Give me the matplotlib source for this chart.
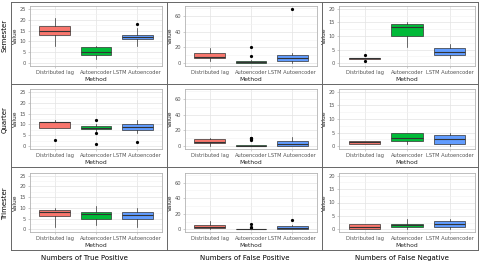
import matplotlib
matplotlib.use("Agg")
import matplotlib.pyplot as plt
from matplotlib.lines import Line2D

methods = ["Distributed lag", "Autoencoder", "LSTM Autoencoder"]
colors = ["#F8766D", "#00BA38", "#619CFF"]
rows = ["Semester", "Quarter", "Trimester"]
cols = ["Numbers of True Positive", "Numbers of False Positive", "Numbers of False Negative"]

# box stats per method: (whislo, q1, med, q3, whishi, fliers)
semester_tp = [(8, 12.8, 15, 17, 21, []), (2, 3.7, 5, 7.3, 8, []), (8, 11, 12, 13, 16, [18])]
semester_fp = [(3, 6, 8.5, 13, 19, []), (0, 0.5, 1.5, 2.5, 3.5, [9, 21]), (0, 3, 6, 10, 13, [69])]
semester_fn = [(1.5, 1.5, 2, 2, 2, [1, 3]), (6, 10, 13.3, 14.3, 15, []), (2, 3.2, 4, 5.5, 7, [])]
quarter_tp = [(8.5, 8.5, 11, 11.2, 12, [3]), (7, 8, 8.5, 9.3, 10, [12, 6, 1]), (6, 7.5, 9, 10, 12, [2])]
quarter_fp = [(0, 4, 6, 9, 11, []), (0, 0, 0.5, 1, 2, [8, 9, 10, 11]), (0, 0, 3, 7, 12, [])]
quarter_fn = [(1, 1, 1.5, 2, 2, []), (1, 1.8, 3, 5, 5, []), (0, 1, 2.7, 4, 5, [])]
trimester_tp = [(1, 6, 8, 9, 10, []), (2, 5, 7, 8, 11, []), (1, 5, 6.5, 8, 10, [])]
trimester_fp = [(0, 2, 3.5, 6, 11, []), (0, 0, 0, 1, 1.5, [2, 3, 7]), (0, 1, 2, 4, 6, [12])]
trimester_fn = [(0, 0, 1, 2, 2, []), (0, 1, 1.5, 2, 4, []), (0, 1, 2, 3, 4, [])]

panels = [[semester_tp, semester_fp, semester_fn],
          [quarter_tp, quarter_fp, quarter_fn],
          [trimester_tp, trimester_fp, trimester_fn]]

col_ylims = [(-1.3, 26.3), (-3.5, 72.5), (-1.0, 21.0)]
col_ticks = [[0, 5, 10, 15, 20, 25], [0, 20, 40, 60], [0, 5, 10, 15, 20]]
col_minor = [[2.5, 7.5, 12.5, 17.5, 22.5], [10, 30, 50, 70], [2.5, 7.5, 12.5, 17.5]]

W, H = 480, 266
fig = plt.figure(figsize=(4.8, 2.66), dpi=100)

# plot areas in pixels (left, right) and (top, bottom)
col_x = [(30, 162), (185, 317), (339, 475)]
row_y = [(6, 66), (89, 149), (173, 232)]

for r in range(3):
    for c in range(3):
        x0, x1 = col_x[c]
        y0, y1 = row_y[r]
        ax = fig.add_axes([x0 / W, 1 - y1 / H, (x1 - x0) / W, (y1 - y0) / H])
        stats = []
        for m, s in zip(methods, panels[r][c]):
            stats.append(dict(label=m, whislo=s[0], q1=s[1], med=s[2], q3=s[3],
                              whishi=s[4], fliers=s[5]))
        bp = ax.bxp(stats, positions=[1, 2, 3], widths=0.75, patch_artist=True,
                    showcaps=False,
                    boxprops=dict(edgecolor="#333333", linewidth=0.5),
                    medianprops=dict(color="#333333", linewidth=0.8),
                    whiskerprops=dict(color="#333333", linewidth=0.5),
                    flierprops=dict(marker="o", markersize=1.3, markerfacecolor="black",
                                    markeredgecolor="black", linestyle="none"))
        for patch, col in zip(bp["boxes"], colors):
            patch.set_facecolor(col)
        ax.set_xlim(0.4, 3.6)
        ax.set_ylim(*col_ylims[c])
        ax.set_yticks(col_ticks[c])
        ax.set_yticks(col_minor[c], minor=True)
        ax.set_xticks([1, 2, 3])
        ax.set_xticklabels(methods)
        ax.grid(True, which="major", color="#E3E3E3", linewidth=0.5)
        ax.grid(True, which="minor", axis="y", color="#F2F2F2", linewidth=0.4)
        ax.set_axisbelow(True)
        ax.tick_params(which="major", labelsize=3.7, length=1.5, width=0.4,
                       color="#AAAAAA", labelcolor="#555555", pad=1.5)
        ax.tick_params(which="minor", length=0)
        for sp in ax.spines.values():
            sp.set_color("#B3B3B3")
            sp.set_linewidth(0.6)
        ax.set_xlabel("Method", fontsize=4.3, labelpad=1, color="#222222")
        ax.set_ylabel("Value", fontsize=4.3, labelpad=1, color="#222222")

# outer frame and separators
frame_color = "#666666"
xl, xr, yt, yb = 11, 478, 2, 250
lines = [((xl, xr), (yt, yt)), ((xl, xr), (yb, yb)), ((xl, xl), (yt, yb)), ((xr, xr), (yt, yb)),
         ((xl, xr), (84, 84)), ((xl, xr), (167, 167)), ((167, 167), (yt, yb)), ((322, 322), (yt, yb))]
for (xs, ys) in lines:
    fig.add_artist(Line2D([x / W for x in xs], [1 - y / H for y in ys],
                          color=frame_color, linewidth=0.7))

for label, yc in zip(rows, [35, 120, 204]):
    fig.text(5 / W, 1 - yc / H, label, rotation=90, ha="center", va="center", fontsize=5)
for label, xc in zip(cols, [84, 245, 402]):
    fig.text(xc / W, 1 - 258 / H, label, ha="center", va="center", fontsize=5)

fig.savefig("out.png", dpi=100)
